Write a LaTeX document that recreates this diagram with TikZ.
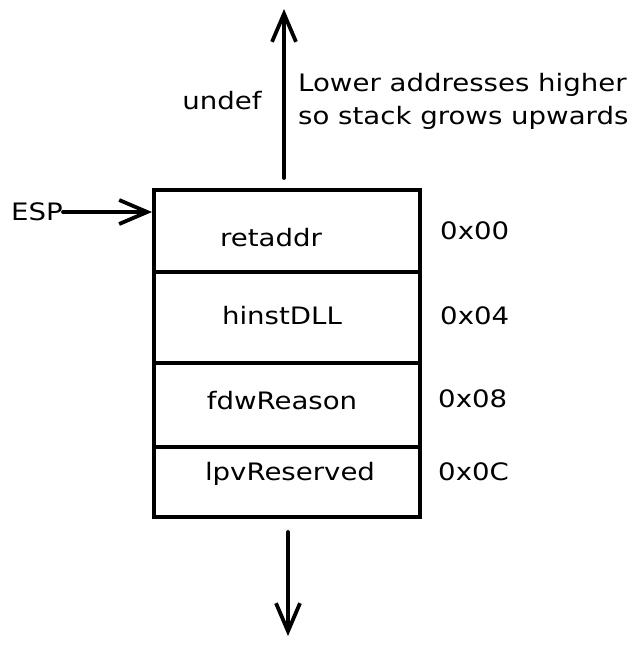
\documentclass[tikz,border=0pt]{standalone}
\usepackage{fontspec}
\setmainfont{DejaVu Sans}[FakeStretch=1.15]
\usetikzlibrary{arrows.meta}
\begin{document}
\begin{tikzpicture}[x=1pt,y=-1pt,
  row/.style={draw,line width=3.8pt,minimum width=266pt,inner sep=0pt,anchor=north west},
  lbl/.style={inner sep=0pt,font=\fontsize{24}{28}\selectfont},
  arr/.style={line width=3.8pt,line cap=round,-{Straight Barb[length=28pt,width=24pt,line width=3.8pt]}}]
\useasboundingbox (0,0) rectangle (643,646);
% stack rows
\node[row,minimum height=82pt] (r1) at (152,188) {};
\node[row,minimum height=91pt] (r2) at (152,270) {};
\node[row,minimum height=84pt] (r3) at (152,361) {};
\node[row,minimum height=70pt] (r4) at (152,445) {};
% row texts
\node[lbl] (t1) at (271,238) {retaddr};
\node[lbl] (t2) at (282,316) {hinstDLL};
\node[lbl] (t3) at (282,401) {fdwReason};
\node[lbl] (t4) at (290,474) {lpvReserved};
% offsets
\node[lbl,anchor=west] (o1) at (440,231) {0x00};
\node[lbl,anchor=west] (o2) at (440,316) {0x04};
\node[lbl,anchor=west] (o3) at (438,399) {0x08};
\node[lbl,anchor=west] (o4) at (438,472) {0x0C};
% ESP pointer
\node[lbl] (esp) at (37,212) {ESP};
\draw[arr] (esp.east) -- (esp.east -| r1.west);
% growth arrows
\coordinate (upS) at (284,178);
\coordinate (upE) at (284,9);
\coordinate (dnS) at (288,532);
\coordinate (dnE) at (288,636);
\draw[arr] (upS) -- (upE);
\draw[arr] (dnS) -- (dnE);
% notes
\node[lbl] (undef) at (222,101) {undef};
\node[lbl,anchor=west,align=left,font=\fontsize{24}{33}\selectfont] (note) at (298,101) {Lower addresses higher\\so stack grows upwards};
\end{tikzpicture}
\end{document}
